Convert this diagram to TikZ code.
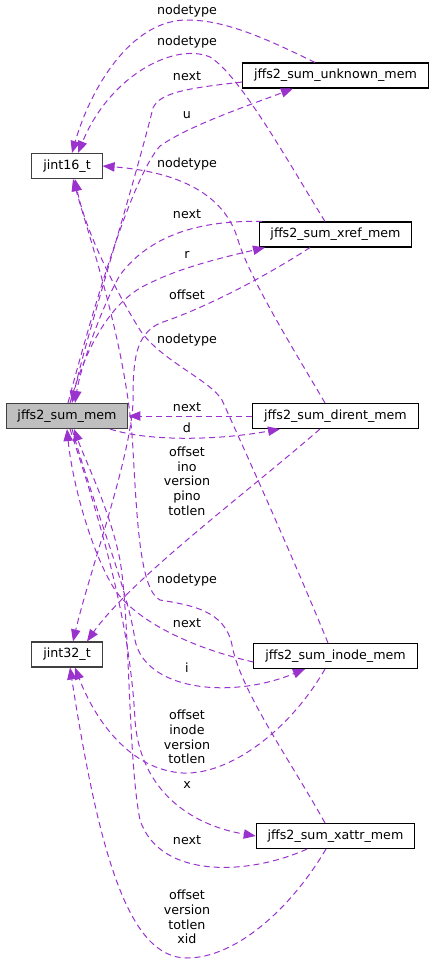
\documentclass[tikz,border=0pt]{standalone}
\usepackage{fontspec}
\setmainfont{DejaVu Sans}
\usepackage{xcolor}
\usetikzlibrary{arrows.meta}

\definecolor{edgepurple}{HTML}{9A32CD}
\definecolor{memgray}{HTML}{BFBFBF}
\definecolor{typeborder}{HTML}{404040}

\tikzset{
    structbox/.style={rectangle, draw=black, fill=white, line width=0.8pt, minimum height=18.75pt,
        inner xsep=8.5pt, inner ysep=0pt, font=\fontsize{9.5}{11}\selectfont},
    typebox/.style={structbox, draw=typeborder},
    member/.style={draw=edgepurple, line width=0.75pt, dash pattern=on 4.5pt off 3pt,
        -{Triangle[length=9pt,width=7pt]}},
    memlabel/.style={font=\fontsize{9.5}{11}\selectfont, align=center, inner sep=0pt}
}

\begin{document}
\begin{tikzpicture}[x=0.75pt, y=-0.75pt]
    \useasboundingbox (0,0) rectangle (435,964);

    % Types on the left
    \node[typebox] (jint16) at (67,166) {jint16\_t};
    \node[typebox, fill=memgray] (summem) at (67,416) {jffs2\_sum\_mem};
    \node[typebox] (jint32) at (67,654.5) {jint32\_t};

    % Summary records on the right
    \node[structbox] (unknown) at (335.5,75.5) {jffs2\_sum\_unknown\_mem};
    \node[structbox] (xref) at (335.5,234.5) {jffs2\_sum\_xref\_mem};
    \node[structbox] (dirent) at (335.5,416) {jffs2\_sum\_dirent\_mem};
    \node[structbox] (inode) at (335.5,656) {jffs2\_sum\_inode\_mem};
    \node[structbox] (xattr) at (335.5,836) {jffs2\_sum\_xattr\_mem};

    % Members of jffs2_sum_unknown_mem
    \draw[member] (315,0 |- unknown.north) .. controls (265,38) and (225,20) .. (187,20)
        .. controls (130,20) and (90,90) .. (72,0 |- jint16.north)
        node[memlabel] (typeunknown) at (187,11) {nodetype};
    \draw[member] (unknown.west |- 0,82) .. controls (190,88) and (160,92) .. (153,108)
        .. controls (130,200) and (85,340) .. (72,0 |- summem.north)
        node[memlabel] (nextunknown) at (187,76) {next};
    \draw[member] (68,0 |- summem.north) .. controls (90,320) and (130,180) .. (160,146)
        .. controls (190,125) and (250,105) .. (293,0 |- unknown.south)
        node[memlabel] (memu) at (187,115) {u};

    % Members of jffs2_sum_xref_mem
    \draw[member] (325,0 |- xref.north) .. controls (290,165) and (240,75) .. (210,57)
        .. controls (175,42) and (110,75) .. (78,0 |- jint16.north)
        node[memlabel] (typexref) at (187,42) {nodetype};
    \draw[member] (262,0 |- xref.north) .. controls (200,220) and (150,235) .. (120,275)
        .. controls (100,310) and (80,370) .. (75,0 |- summem.north)
        node[memlabel] (nextxref) at (187,214) {next};
    \draw[member] (70,0 |- summem.north) .. controls (85,350) and (110,300) .. (150,283)
        .. controls (180,268) and (220,258) .. (265,0 |- xref.south)
        node[memlabel] (memr) at (187,255) {r};
    \draw[member] (310,0 |- xref.south) .. controls (260,280) and (200,310) .. (160,323)
        .. controls (135,335) and (133,360) .. (133,403)
        .. controls (130,460) and (90,570) .. (73,0 |- jint32.north)
        node[memlabel] (fieldsxref) at (187,295) {offset};

    % Members of jffs2_sum_dirent_mem
    \draw[member] (325,0 |- dirent.north) .. controls (300,360) and (250,280) .. (238,240)
        .. controls (225,195) and (180,172) .. (jint16.east)
        node[memlabel] (typedirent) at (187,164) {nodetype};
    \draw[member] (dirent.west) -- (summem.east)
        node[memlabel] (nextdirent) at (187,407) {next};
    \draw[member] (110,0 |- summem.south) .. controls (150,442) and (220,440) .. (280,0 |- dirent.south)
        node[memlabel] (memd) at (187,428) {d};
    \draw[member] (320,0 |- dirent.south) .. controls (250,490) and (130,580) .. (87,0 |- jint32.north)
        node[memlabel] (fieldsdirent) at (187,481) {offset\\ino\\version\\pino\\totlen};

    % Members of jffs2_sum_inode_mem
    \draw[member] (328,0 |- inode.north) .. controls (290,550) and (240,440) .. (222,400)
        .. controls (210,380) and (160,360) .. (140,330)
        .. controls (115,290) and (85,230) .. (75,0 |- jint16.south)
        node[memlabel] (typeinode) at (187,340) {nodetype};
    \draw[member] (inode.west |- 0,662) .. controls (200,650) and (140,625) .. (115,590)
        .. controls (90,550) and (72,480) .. (67,0 |- summem.south)
        node[memlabel] (nextinode) at (187,623) {next};
    \draw[member] (72,0 |- summem.south) .. controls (95,510) and (128,590) .. (135,640)
        .. controls (145,690) and (230,700) .. (305,0 |- inode.south)
        node[memlabel] (memi) at (187,668) {i};
    \draw[member] (325,0 |- inode.south) .. controls (290,730) and (230,775) .. (183,773)
        .. controls (130,770) and (95,720) .. (75,0 |- jint32.south)
        node[memlabel] (fieldsinode) at (187,737) {offset\\inode\\version\\totlen};

    % Members of jffs2_sum_xattr_mem
    \draw[member] (325,0 |- xattr.north) .. controls (290,760) and (240,690) .. (232,645)
        .. controls (225,610) and (190,605) .. (160,600)
        .. controls (140,590) and (137,520) .. (133,450)
        .. controls (128,350) and (90,240) .. (73,0 |- jint16.south)
        node[memlabel] (typexattr) at (187,580) {nodetype};
    \draw[member] (70,0 |- summem.south) .. controls (100,520) and (130,620) .. (135,720)
        .. controls (140,790) and (190,825) .. (xattr.west)
        node[memlabel] (memx) at (187,785) {x};
    \draw[member] (307,0 |- xattr.south) .. controls (250,875) and (160,880) .. (140,820)
        .. controls (128,760) and (130,620) .. (120,560)
        .. controls (110,510) and (85,460) .. (74,0 |- summem.south)
        node[memlabel] (nextxattr) at (187,840) {next};
    \draw[member] (326,0 |- xattr.south) .. controls (290,910) and (235,958) .. (187,958)
        .. controls (130,958) and (100,860) .. (70,0 |- jint32.south)
        node[memlabel] (fieldsxattr) at (187,917) {offset\\version\\totlen\\xid};
\end{tikzpicture}
\end{document}
